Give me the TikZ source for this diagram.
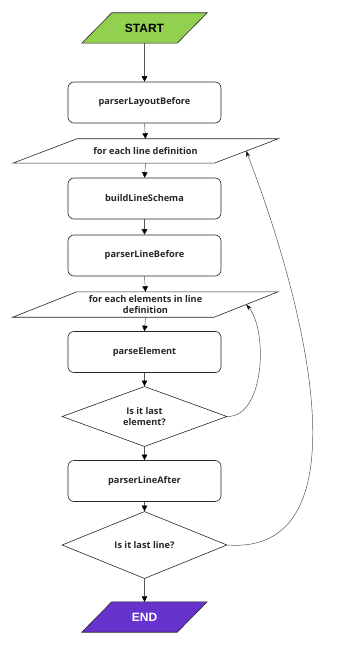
\documentclass[tikz,border=0pt]{standalone}
\usepackage{fontspec}
\setmainfont{Open Sans}
\newfontfamily\capsfont{Liberation Sans}
\usetikzlibrary{arrows.meta,shapes.geometric}
\definecolor{startgreen}{HTML}{92D050}
\definecolor{endpurple}{HTML}{6633CC}
\definecolor{linkgray}{HTML}{555555}
\tikzset{
  x=1pt, y=-1pt,
  lbl/.style={font=\fontsize{9.2}{10.5}\selectfont\bfseries, align=center, text=black!85},
  procbox/.style={lbl, draw=black!85, line width=0.6pt, rounded corners=6pt,
    minimum width=153pt, minimum height=41pt, inner sep=0pt},
  decision/.style={lbl, diamond, draw=black!85, line width=0.6pt,
    minimum width=165pt, minimum height=57pt, inner sep=0pt},
  pgframe/.style={rectangle, inner sep=0pt},
  pgdraw/.style={draw=black!85, line width=0.6pt},
  flow/.style={draw=linkgray, line width=0.5pt,
    -{Triangle[width=5.5pt,length=5.5pt,color=black]}},
  loop/.style={draw=linkgray, line width=0.5pt,
    -{Stealth[width=4pt,length=6pt,color=black]}},
}
\begin{document}
\begin{tikzpicture}
\useasboundingbox (0,0) rectangle (343,647);

% terminals and loop headers (parallelograms drawn around invisible frames)
\node[pgframe, minimum width=95pt, minimum height=30pt] (start) at (144.5,28) {};
\draw[pgdraw, fill=startgreen] ([xshift=15pt]start.north west) -- ([xshift=15pt]start.north east)
  -- ([xshift=-15pt]start.south east) -- ([xshift=-15pt]start.south west) -- cycle;
\node[font=\capsfont\fontsize{12}{14}\selectfont\bfseries] at (start) {START};

\node[pgframe, minimum width=201pt, minimum height=24pt] (eachline) at (145.5,151) {};
\draw[pgdraw, fill=white] ([xshift=32pt]eachline.north west) -- ([xshift=32pt]eachline.north east)
  -- ([xshift=-32pt]eachline.south east) -- ([xshift=-32pt]eachline.south west) -- cycle;
\node[lbl] at (eachline) {for each line definition};

\node[pgframe, minimum width=201pt, minimum height=25pt] (eachelem) at (145.5,304.5) {};
\draw[pgdraw, fill=white] ([xshift=32pt]eachelem.north west) -- ([xshift=32pt]eachelem.north east)
  -- ([xshift=-32pt]eachelem.south east) -- ([xshift=-32pt]eachelem.south west) -- cycle;
\node[lbl, inner sep=0pt] at (eachelem) {for each elements in line\\definition};

\node[pgframe, minimum width=95pt, minimum height=30pt] (end) at (144.5,617) {};
\draw[pgdraw, fill=endpurple] ([xshift=15pt]end.north west) -- ([xshift=15pt]end.north east)
  -- ([xshift=-15pt]end.south east) -- ([xshift=-15pt]end.south west) -- cycle;
\node[font=\capsfont\fontsize{12}{14}\selectfont\bfseries, text=white] at (end) {END};

% process steps
\node[procbox] (layoutbefore) at (144.5,102.5) {parserLayoutBefore};
\node[procbox] (schema) at (144.5,198.5) {buildLineSchema};
\node[procbox] (linebefore) at (144.5,255.5) {parserLineBefore};
\node[procbox] (parseel) at (144.5,352) {parseElement};
\node[procbox] (lineafter) at (144.5,481) {parserLineAfter};

% decisions
\node[decision] (lastel) at (144.5,416.5) {Is it last\\element?};
\node[decision] (lastline) at (144.5,545) {Is it last line?};

% main flow
\draw[flow] (start.south) -- (layoutbefore.north);
\draw[flow] (layoutbefore.south) -- (eachline.north);
\draw[flow] (eachline.south) -- (schema.north);
\draw[flow] (schema.south) -- (linebefore.north);
\draw[flow] (linebefore.south) -- (eachelem.north);
\draw[flow] (eachelem.south) -- (parseel.north);
\draw[flow] (parseel.south) -- (lastel.north);
\draw[flow] (lastel.south) -- (lineafter.north);
\draw[flow] (lineafter.south) -- (lastline.north);
\draw[flow] (lastline.south) -- (end.north);

% loop-backs
\draw[loop] (lastel.east) .. controls (265,417) and (268,330) .. (eachelem.east);
\draw[loop] (lastline.east) .. controls (360,555) and (315,330) .. (eachline.east);
\end{tikzpicture}
\end{document}
